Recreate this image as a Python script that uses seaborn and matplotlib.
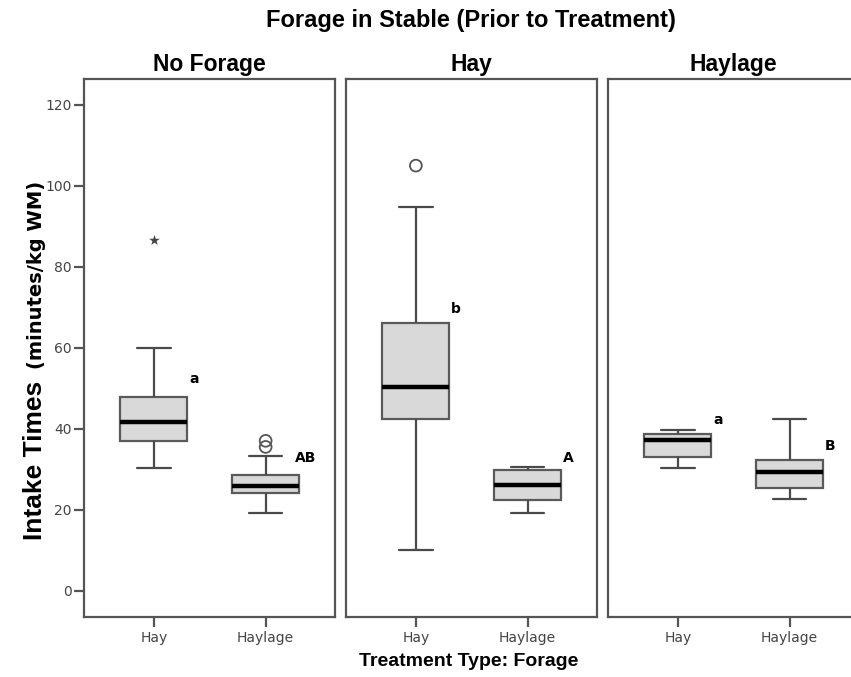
import numpy as np
import pandas as pd
import matplotlib.pyplot as plt
import seaborn as sns

# five-number summaries, order: stable x treatment
stables = ["No Forage", "Hay", "Haylage"]
treatments = ["Hay", "Haylage"]
whisker_low = [30.2, 19.1, 10.1, 19.2, 30.3, 22.7]
q1 = [37.0, 24.2, 42.5, 22.5, 33.1, 25.3]
median = [41.7, 25.8, 50.3, 26.2, 37.2, 29.2]
q3 = [47.9, 28.5, 66.0, 29.7, 38.6, 32.3]
whisker_high = [59.9, 33.2, 94.7, 30.6, 39.7, 42.3]

# outliers (o = outlier, * = extreme)
out_stable = ["No Forage", "No Forage", "No Forage", "Hay"]
out_treat = ["Hay", "Haylage", "Haylage", "Hay"]
out_value = [86.5, 37.0, 35.5, 105.0]
out_kind = ["*", "o", "o", "o"]

# significance letters
letter_stable = ["No Forage", "No Forage", "Hay", "Hay", "Haylage", "Haylage"]
letter_treat = ["Hay", "Haylage", "Hay", "Haylage", "Hay", "Haylage"]
letter_text = ["a", "AB", "b", "A", "a", "B"]
letter_y = [52.3, 32.8, 69.6, 32.8, 42.2, 35.7]

rows = []
for i, (s, t) in enumerate([(s, t) for s in stables for t in treatments]):
    for v in (whisker_low[i], q1[i], median[i], q3[i], whisker_high[i]):
        rows.append({"stable": s, "treatment": t, "value": v})
df = pd.DataFrame(rows)
outliers = pd.DataFrame({"stable": out_stable, "treatment": out_treat,
                         "value": out_value, "kind": out_kind})

sns.set_style("white")
plt.rcParams["font.family"] = ["DejaVu Sans"]
plt.rcParams["text.color"] = "black"
narrow = ["Liberation Sans Narrow", "Liberation Sans", "DejaVu Sans"]

edge = "#4a4a4a"
fig = plt.figure(figsize=(8.51, 6.77), dpi=100)
W, H = 851, 677
lefts = [84, 346, 608]
axes = []
for k, s in enumerate(stables):
    ax = fig.add_axes([lefts[k] / W, 1 - 617.3 / H, 251.5 / W, (617.3 - 79) / H])
    axes.append(ax)
    sub = df[df["stable"] == s]
    sns.boxplot(data=sub, x="treatment", y="value", order=treatments, ax=ax,
                whis=(0, 100), width=0.6, color="#d9d9d9", linecolor=edge,
                linewidth=1.6, showfliers=False,
                medianprops={"color": "black", "linewidth": 3.2},
                boxprops={"edgecolor": "#5a5a5a"})
    o = outliers[(outliers["stable"] == s) & (outliers["kind"] == "o")]
    if len(o):
        sns.stripplot(data=o, x="treatment", y="value", order=treatments, ax=ax,
                      jitter=False, marker="o", size=8.5, facecolor="none",
                      edgecolor="#555555", linewidth=1.3, color="#555555")
    e = outliers[(outliers["stable"] == s) & (outliers["kind"] == "*")]
    if len(e):
        sns.stripplot(data=e, x="treatment", y="value", order=treatments, ax=ax,
                      jitter=False, marker="*", size=8, color="#444444",
                      linewidth=0)
    for st, tr, txt, y in zip(letter_stable, letter_treat, letter_text, letter_y):
        if st == s:
            ax.text(treatments.index(tr) + 0.36, y, txt, ha="center", va="center",
                    fontsize=10, fontweight="bold", color="black")
    ax.set_xlim(-0.625, 1.625)
    ax.set_ylim(-6.6, 126.4)
    ax.set_xlabel("")
    ax.set_ylabel("")
    ax.set_title(s, fontsize=16.5, fontweight="bold", family=narrow, pad=6,
                 color="black")
    for sp in ax.spines.values():
        sp.set_visible(True)
        sp.set_color("#555555")
        sp.set_linewidth(1.6)
    ax.tick_params(axis="x", bottom=True, length=7, width=1.6, color="#555555",
                   labelsize=10, labelcolor="#444444", pad=3)
    ax.set_yticks([0, 20, 40, 60, 80, 100, 120])
    if k == 0:
        ax.tick_params(axis="y", left=True, length=7, width=1.6, color="#555555",
                       labelsize=10, labelcolor="#444444", pad=2)
    else:
        ax.tick_params(axis="y", left=False, labelleft=False)

fig.text(471 / W, 1 - 20 / H, "Forage in Stable (Prior to Treatment)",
         ha="center", va="center", fontsize=17, fontweight="bold", family=narrow)
fig.text(469 / W, 1 - 662 / H, "Treatment Type: Forage", ha="center",
         va="center", fontsize=14, fontweight="bold", family=narrow)
fig.text(42 / W, 1 - 540 / H, "Intake Times", rotation=90, rotation_mode="anchor",
         ha="left", va="baseline", fontsize=19, family=["Liberation Sans"],
         fontweight="bold")
fig.text(42 / W, 1 - 369 / H, "(minutes/kg WM)", rotation=90,
         rotation_mode="anchor", ha="left", va="baseline", fontsize=14,
         fontweight="bold")

fig.savefig("out.png", dpi=100)
